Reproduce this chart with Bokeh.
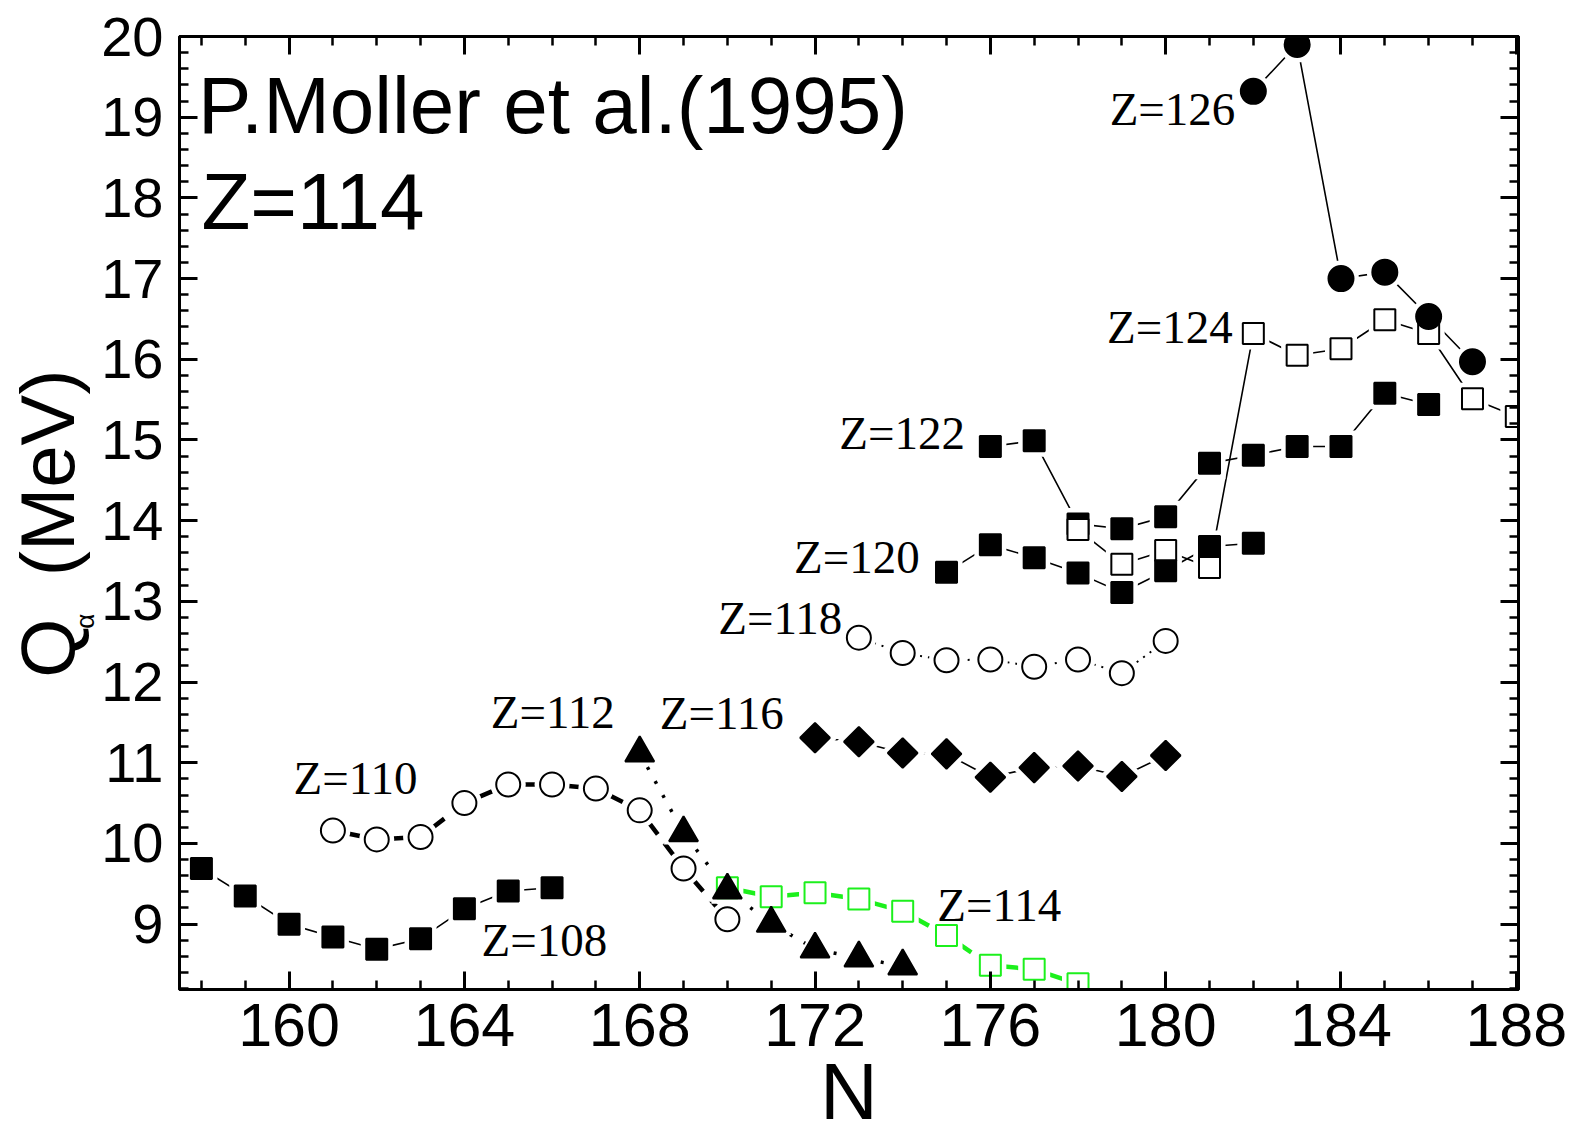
import numpy as np
from bokeh.plotting import figure
from bokeh.models import FixedTicker, LinearAxis, Range1d, Label
from bokeh.embed import file_html
from bokeh.resources import INLINE

# ---------------- data ----------------
x_ticks = [160, 164, 168, 172, 176, 180, 184, 188]
x_minor_ticks = list(range(158, 189))
y_ticks = list(range(9, 21))
y_minor_ticks = [round(8.2 + 0.2 * i, 1) for i in range(60)]

n108 = [158, 159, 160, 161, 162, 163, 164, 165, 166]
q108 = [9.69, 9.35, 9.00, 8.84, 8.69, 8.82, 9.19, 9.41, 9.45]

n110 = [161, 162, 163, 164, 165, 166, 167, 168, 169, 170]
q110 = [10.16, 10.05, 10.08, 10.50, 10.73, 10.73, 10.68, 10.41, 9.69, 9.06]

n112 = [168, 169, 170, 171, 172, 173, 174]
q112 = [11.12, 10.13, 9.42, 9.01, 8.69, 8.58, 8.48]

n114 = [170, 171, 172, 173, 174, 175, 176, 177, 178]
q114 = [9.45, 9.34, 9.39, 9.31, 9.16, 8.86, 8.49, 8.44, 8.26]

n116 = [172, 173, 174, 175, 176, 177, 178, 179, 180]
q116 = [11.31, 11.26, 11.12, 11.11, 10.82, 10.94, 10.96, 10.83, 11.09]

n118 = [173, 174, 175, 176, 177, 178, 179, 180]
q118 = [12.55, 12.36, 12.27, 12.28, 12.19, 12.28, 12.11, 12.51]

n120 = [175, 176, 177, 178, 179, 180, 181, 182]
q120 = [13.36, 13.70, 13.54, 13.35, 13.11, 13.38, 13.68, 13.72]

n122 = [176, 177, 178, 179, 180, 181, 182, 183, 184, 185, 186]
q122 = [14.92, 14.99, 13.96, 13.90, 14.05, 14.71, 14.81, 14.92, 14.92, 15.58, 15.44]

n124 = [178, 179, 180, 181, 182, 183, 184, 185, 186, 187, 188]
q124 = [13.89, 13.46, 13.63, 13.42, 16.32, 16.05, 16.13, 16.49, 16.32, 15.51, 15.29]

n126 = [182, 183, 184, 185, 186, 187]
q126 = [19.32, 19.90, 17.00, 17.08, 16.53, 15.97]

GREEN = "#1cf01c"

series = [
    dict(n=n108, q=q108, marker="square", size=21, angle=0, fill="black", mline="black", lc="black", lw=1.6, dash="solid", seg=False),
    dict(n=n110, q=q110, marker="circle", size=24, angle=0, fill="white", mline="black", lc="black", lw=4.5, dash="30 11", seg=True),
    dict(n=n114, q=q114, marker="square", size=21, angle=0, fill="white", mline=GREEN, lc=GREEN, lw=4.5, dash="30 11", seg=True),
    dict(n=n112, q=q112, marker="triangle", size=29, angle=0, fill="black", mline="black", lc="black", lw=3.5, dash="3 13", seg=False),
    dict(n=n116, q=q116, marker="square", size=21, angle=np.pi / 4, fill="black", mline="black", lc="black", lw=1.6, dash="solid", seg=False),
    dict(n=n118, q=q118, marker="circle", size=24, angle=0, fill="white", mline="black", lc="black", lw=2, dash="2 6", seg=False),
    dict(n=n122, q=q122, marker="square", size=21, angle=0, fill="black", mline="black", lc="black", lw=1.6, dash="solid", seg=False),
    dict(n=n124, q=q124, marker="square", size=21, angle=0, fill="white", mline="black", lc="black", lw=1.6, dash="solid", seg=False),
    dict(n=n120, q=q120, marker="square", size=21, angle=0, fill="black", mline="black", lc="black", lw=1.6, dash="solid", seg=False),
    dict(n=n126, q=q126, marker="circle", size=25, angle=0, fill="black", mline="black", lc="black", lw=1.6, dash="solid", seg=False),
]

sans = "Liberation Sans"
serif = "Liberation Serif"

p = figure(width=1576, height=1139, output_backend="svg", toolbar_location=None,
           title=None,
           x_range=Range1d(157.5, 188.05), y_range=Range1d(8.19, 20.0),
           min_border_left=179, min_border_right=58, min_border_top=36,
           min_border_bottom=150)
p.background_fill_color = "white"
p.border_fill_color = "white"
p.grid.visible = False
p.outline_line_color = "black"
p.outline_line_width = 3


def style_axis(ax, ticks, minor, show_labels, font=None, fsize=None, standoff=0):
    ax.ticker = FixedTicker(ticks=ticks, minor_ticks=minor)
    ax.axis_line_width = 3
    ax.axis_line_color = "black"
    ax.major_tick_in = 18
    ax.major_tick_out = 0
    ax.minor_tick_in = 9
    ax.minor_tick_out = 0
    ax.major_tick_line_width = 3
    ax.minor_tick_line_width = 2.5
    ax.major_tick_line_color = "black"
    ax.minor_tick_line_color = "black"
    if show_labels:
        ax.major_label_text_font = font
        ax.major_label_text_font_size = fsize
        ax.major_label_text_color = "black"
        ax.major_label_standoff = standoff
    else:
        ax.major_label_text_color = None
        ax.major_label_text_font_size = "0px"
        ax.major_label_standoff = 0


xax = p.xaxis[0]
style_axis(xax, x_ticks, x_minor_ticks, True, sans, "61px", 14)
xax.axis_label = "N"
xax.axis_label_text_font = sans
xax.axis_label_text_font_size = "80px"
xax.axis_label_text_font_style = "normal"
xax.axis_label_text_color = "black"
xax.axis_label_standoff = -2

yax = p.yaxis[0]
style_axis(yax, y_ticks, y_minor_ticks, True, sans, "56px", 16)
# subscript alpha of Q_alpha, shifted along the axis with non-breaking spaces
yax.axis_label = "α" + "\u00a0" * 30
yax.axis_label_text_font = sans
yax.axis_label_text_font_size = "26px"
yax.axis_label_text_font_style = "normal"
yax.axis_label_text_color = "black"
yax.axis_label_standoff = -2

# outer left axis carrying only the title "Q (MeV)"
qax = LinearAxis(ticker=FixedTicker(ticks=[]), axis_line_color=None,
                 major_tick_line_color=None, minor_tick_line_color=None,
                 major_tick_in=0, major_tick_out=0, minor_tick_in=0, minor_tick_out=0,
                 major_label_text_font_size="0px", major_label_standoff=0,
                 axis_label="Q\u00a0 (MeV)\u00a0", axis_label_text_font=sans,
                 axis_label_text_font_size="76px", axis_label_text_font_style="normal",
                 axis_label_text_color="black", axis_label_standoff=-22)
p.add_layout(qax, "left")

top_ax = LinearAxis()
style_axis(top_ax, x_ticks, x_minor_ticks, False)
p.add_layout(top_ax, "above")
right_ax = LinearAxis()
style_axis(right_ax, y_ticks, y_minor_ticks, False)
p.add_layout(right_ax, "right")

# lines
for s in series:
    if s["seg"]:
        xs = [[s["n"][i], s["n"][i + 1]] for i in range(len(s["n"]) - 1)]
        ys = [[s["q"][i], s["q"][i + 1]] for i in range(len(s["q"]) - 1)]
        p.multi_line(xs, ys, line_color=s["lc"], line_width=s["lw"], line_dash=s["dash"])
    else:
        p.line(s["n"], s["q"], line_color=s["lc"], line_width=s["lw"], line_dash=s["dash"])
# halos (gap around symbols)
for s in series:
    p.scatter(s["n"], s["q"], marker=s["marker"], size=s["size"] + 11, angle=s["angle"],
              fill_color="white", line_color=None)
# markers
for s in series:
    p.scatter(s["n"], s["q"], marker=s["marker"], size=s["size"], angle=s["angle"],
              fill_color=s["fill"], line_color=s["mline"], line_width=2)

# series labels (y includes compensation for baseline placement)
zlabels = [
    ("Z=126", 181.59, 18.90, "right"),
    ("Z=124", 181.53, 16.20, "right"),
    ("Z=122", 175.42, 14.88, "right"),
    ("Z=120", 174.39, 13.34, "right"),
    ("Z=118", 172.62, 12.59, "right"),
    ("Z=112", 167.43, 11.42, "right"),
    ("Z=116", 168.46, 11.41, "left"),
    ("Z=110", 160.10, 10.61, "left"),
    ("Z=108", 164.39, 8.595, "left"),
    ("Z=114", 174.79, 9.03, "left"),
]
for txt, xx, yy, al in zlabels:
    p.add_layout(Label(x=xx, y=yy + 0.205, text=txt, text_font=serif, text_font_size="47px",
                       text_align=al, text_baseline="alphabetic", text_color="black"))

p.add_layout(Label(x=157.92, y=18.78 + 0.36, text="P.Moller et al.(1995)", text_font=sans,
                   text_color="black", text_font_size="80px", text_align="left",
                   text_baseline="alphabetic"))
p.add_layout(Label(x=158.0, y=17.60 + 0.36, text="Z=114", text_font=sans, text_color="black",
                   text_font_size="80px", text_align="left", text_baseline="alphabetic"))

open("out.html", "w").write(file_html(p, INLINE))
